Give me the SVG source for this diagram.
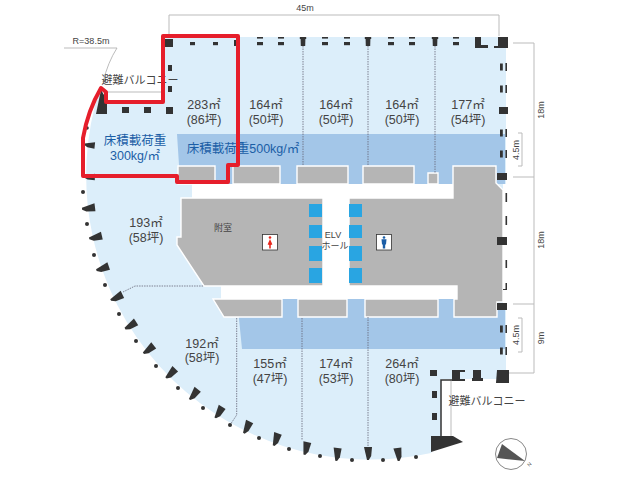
<svg xmlns="http://www.w3.org/2000/svg" width="640" height="480" viewBox="0 0 640 480">
<style>
text{font-family:"Liberation Sans","Noto Sans CJK JP",sans-serif;fill:#444;text-anchor:middle}
.a{font-size:12.5px}
.s{font-size:9px}
.b{fill:#1b5ea6;font-size:12.5px}
.d{fill:none;stroke:#bbb;stroke-width:1}
.dot{fill:none;stroke:#667;stroke-width:.8;stroke-dasharray:1.5 1}
.g{fill:#b5b5b5;stroke:#fff;stroke-width:1.4}
.c{fill:#333}
.l{fill:#29a5e2}
</style>
<defs>
<polygon id="col" class="c" points="-6,-4 3,-3.2 7,-.8 7,1 -6,4"/>
<g id="pair"><rect class="c" x="-3" y="37" width="6" height="1.6"/><rect class="c" x="-3" y="42" width="6" height="3.2"/></g>
<polygon id="tee" class="c" points="-3.2,37 3.2,37 3.2,39 2.4,39 2.2,46 -2.2,46 -2.4,39 -3.2,39"/>
<g id="side"><rect class="c" x="500" y="-3.5" width="2.8" height="7"/><rect class="c" x="505.4" y="-4" width="1.6" height="8"/></g>
</defs>

<g id="dimensions">
<path class="d" d="M169 36V15H499V36M513 43H534V304M513 177H534M513 304H534V373H503M518 133H522V166H518M518 318H522V352H518"/>
<path d="M64 48H117Q108 62 103 82" fill="none" stroke="#aaa" stroke-width=".8"/>
<path d="M106 92H165" fill="none" stroke="#aaa" stroke-width=".8"/>
<path d="M451 380V436" fill="none" stroke="#bbb" stroke-width="1"/>
<text class="s" x="305" y="11">45m</text>
<text class="s" x="91" y="44">R=38.5m</text>
<text class="s" transform="translate(544,110) rotate(-90)">18m</text>
<text class="s" transform="translate(544,240) rotate(-90)">18m</text>
<text class="s" transform="translate(544,338) rotate(-90)">9m</text>
<text class="s" transform="translate(519,150) rotate(-90)">4.5m</text>
<text class="s" transform="translate(519,335) rotate(-90)">4.5m</text>
</g>

<g id="floor">
<path fill="#dceefa" d="M165 37H506V379H441V440L431 453A284 284 0 0 1 100 88L107 100H165Z"/>
<path fill="#a3c6e8" d="M177 134H505V184H181L179 165ZM237 299H505V349H242Z"/>
<path fill="#fff" d="M192 184H453V198H192ZM221 286H457V299H221ZM323 198H349V286H323ZM503 184H508V303H503Z"/>
</g>

<g id="core">
<path class="g" d="M181 198H323V286H204L177 245V237H181Z"/>
<path class="g" d="M349 198H453V166H496V183L503 190V302H497V317H454V299L457 299V286H349Z"/>
<path class="g" d="M178 166H215V184H178Z"/>
<path class="g" d="M233 166H280V184H233Z"/>
<path class="g" d="M297 166H348V184H297Z"/>
<path class="g" d="M363 166H414V184H363Z"/>
<path class="g" d="M428 173H438V184H428Z"/>
<path class="g" d="M213 299H282V317H224Z"/>
<path class="g" d="M298 299H347V317H298Z"/>
<path class="g" d="M365 299H438V317H365Z"/>
</g>

<g id="lifts">
<rect class="l" x="309" y="204" width="13" height="13"/><rect class="l" x="309" y="225" width="13" height="13"/><rect class="l" x="309" y="246" width="13" height="15"/><rect class="l" x="309" y="268" width="13" height="15"/>
<rect class="l" x="349" y="204" width="13" height="13"/><rect class="l" x="349" y="225" width="13" height="13"/><rect class="l" x="349" y="246" width="13" height="15"/><rect class="l" x="349" y="268" width="13" height="15"/>
</g>

<g id="wc-f">
<rect x="262.500" y="234.500" width="15" height="15.500" fill="#fff" stroke="#333" stroke-width=".8"/>
<circle cx="270" cy="237.500" r="1.300" fill="#e8281e"/><path d="M270 239L272.400 244.500L270.800 245V248.500H269.200V245L267.600 244.500Z" fill="#e8281e"/>
</g>
<g id="wc-m">
<rect x="376.500" y="234.500" width="15" height="15.500" fill="#fff" stroke="#333" stroke-width=".8"/>
<circle cx="384" cy="237.500" r="1.300" fill="#1b5ea6"/><path d="M381.500 239.300H386.500L386 244.500H385.200V248.500H382.800V244.500H382Z" fill="#1b5ea6"/>
</g>

<g id="connectors">
<path class="dot" d="M303 46V166M368 46V166M435 46V173M236.700 318V415L230 425M302 318V440M368 317V450M123 292L135 286H204"/>
</g>

<g id="columns">
<rect class="c" x="165" y="39" width="8" height="8"/>
<rect class="c" x="190" y="42" width="5" height="3.200"/><rect class="c" x="213" y="42" width="5" height="3.200"/><rect class="c" x="234" y="40" width="6" height="6"/>
<use href="#pair" x="260"/><use href="#pair" x="281"/><use href="#pair" x="325"/><use href="#pair" x="347"/><use href="#pair" x="391"/><use href="#pair" x="412"/><use href="#pair" x="456"/>
<use href="#tee" x="303"/><use href="#tee" x="368"/><use href="#tee" x="435"/>
<path class="c" d="M475 37H481V45H488V48H475Z"/>
<path class="c" d="M498 37H508V48H494V46H498Z"/>
<use href="#side" y="67"/><use href="#side" y="89"/><use href="#side" y="133"/><use href="#side" y="154"/><use href="#side" y="329"/><use href="#side" y="351"/>
<rect class="c" x="499" y="107" width="9" height="7"/>
<rect class="c" x="497" y="173" width="10" height="7"/>
<rect class="c" x="505.500" y="193" width="1.600" height="9"/><rect class="c" x="505.500" y="216" width="1.600" height="9"/>
<rect class="c" x="497" y="237" width="10" height="8"/>
<rect class="c" x="505.500" y="260" width="1.600" height="8"/><path class="c" d="M505.500 283H507V290H503V289H505.500Z"/>
<rect class="c" x="497" y="303" width="10" height="7"/>
<rect class="c" x="430" y="370" width="7" height="6"/>
<path class="c" d="M452 370H465V372H460V379H465V381H452Z"/>
<path class="c" d="M473 370H481V378H483V381H472V378H473Z"/>
<path class="c" d="M497 370H509V383H496Z"/>
<rect class="c" x="432" y="391" width="5" height="7"/><rect class="c" x="432" y="413" width="5" height="7"/>
<path d="M458 380H441V437" fill="none" stroke="#333" stroke-width="1.500"/>
<polygon class="c" points="431,436 453,436 463,442 431,452"/>
<polygon class="c" points="101,90 107,100 107,114 96,114"/>
<rect class="c" x="122" y="107" width="7" height="6"/><rect class="c" x="144" y="107" width="7" height="6"/><rect class="c" x="166" y="107" width="7" height="7"/>
<rect class="c" x="168" y="65" width="4" height="6"/><rect class="c" x="168" y="86" width="4" height="6"/>
<use href="#col" transform="translate(90,145) rotate(186) scale(.8)"/>
<use href="#col" transform="translate(90,177) rotate(180) scale(.8)"/>
<use href="#col" transform="translate(89,208) rotate(173)"/>
<use href="#col" transform="translate(96,237) rotate(167)"/>
<use href="#col" transform="translate(103,268) rotate(161)"/>
<use href="#col" transform="translate(117,297) rotate(154)"/>
<use href="#col" transform="translate(131,325) rotate(148)"/>
<use href="#col" transform="translate(149,349) rotate(142)"/>
<use href="#col" transform="translate(171,373) rotate(135)"/>
<use href="#col" transform="translate(194,394) rotate(128)"/>
<use href="#col" transform="translate(219,412) rotate(122)"/>
<use href="#col" transform="translate(247,427) rotate(116)"/>
<use href="#col" transform="translate(276,439) rotate(109)"/>
<use href="#col" transform="translate(306,448) rotate(103)"/>
<use href="#col" transform="translate(337,454) rotate(96)"/>
<use href="#col" transform="translate(368,453) rotate(90)"/>
<use href="#col" transform="translate(398,454) rotate(84)"/>
<g class="c">
<circle cx="87" cy="128" r="1.800"/><circle cx="83" cy="192" r="2"/><circle cx="87" cy="224" r="2"/><circle cx="94" cy="255" r="2"/><circle cx="105" cy="285" r="2"/><circle cx="119" cy="314" r="2"/><circle cx="136" cy="341" r="2"/><circle cx="156" cy="366" r="2"/><circle cx="178" cy="388" r="2"/><circle cx="203" cy="408" r="2"/><circle cx="230" cy="425" r="2"/><circle cx="259" cy="438" r="2"/><circle cx="289" cy="449" r="2"/><circle cx="320" cy="456" r="2"/><circle cx="352" cy="460" r="2"/><circle cx="383" cy="460" r="2"/><circle cx="416" cy="457" r="2"/>
</g>
</g>

<g id="labels">
<text class="a" x="204" y="109">283㎡</text><text class="a" x="204" y="124">(86坪)</text>
<text class="a" x="266" y="109">164㎡</text><text class="a" x="266" y="124">(50坪)</text>
<text class="a" x="336" y="109">164㎡</text><text class="a" x="336" y="124">(50坪)</text>
<text class="a" x="402" y="109">164㎡</text><text class="a" x="402" y="124">(50坪)</text>
<text class="a" x="468" y="109">177㎡</text><text class="a" x="468" y="124">(54坪)</text>
<text class="a" x="146" y="227">193㎡</text><text class="a" x="146" y="242">(58坪)</text>
<text class="a" x="202" y="348">192㎡</text><text class="a" x="202" y="362">(58坪)</text>
<text class="a" x="270" y="368">155㎡</text><text class="a" x="270" y="383">(47坪)</text>
<text class="a" x="336" y="368">174㎡</text><text class="a" x="336" y="383">(53坪)</text>
<text class="a" x="402" y="368">264㎡</text><text class="a" x="402" y="383">(80坪)</text>
<text class="s" x="223" y="231">附室</text>
<text class="s" x="333" y="238">ELV</text><text class="s" x="335" y="249">ホール</text>
<text x="140" y="84" style="font-size:11px">避難バルコニー</text>
<text x="487" y="405" style="font-size:11px">避難バルコニー</text>
<text class="b" x="135" y="145">床積載荷重</text>
<text class="b" x="135" y="160">300kg/㎡</text>
<text class="b" x="243" y="153">床積載荷重500kg/㎡</text>
</g>

<g id="highlight">
<path d="M163 36H238V165H228V182H177V176H83V138Q88 110 101 88L106 92V102H163Z" fill="none" stroke="#e61e2b" stroke-width="4" stroke-linejoin="round"/>
</g>

<g id="compass">
<circle cx="511" cy="454" r="15.500" fill="#fff" stroke="#888" stroke-width="1"/>
<polygon points="502,444 497,458 525,461" fill="#555"/>
<text x="529" y="466" style="font-size:5px" transform="rotate(-45 529 464)">N</text>
</g>
</svg>
